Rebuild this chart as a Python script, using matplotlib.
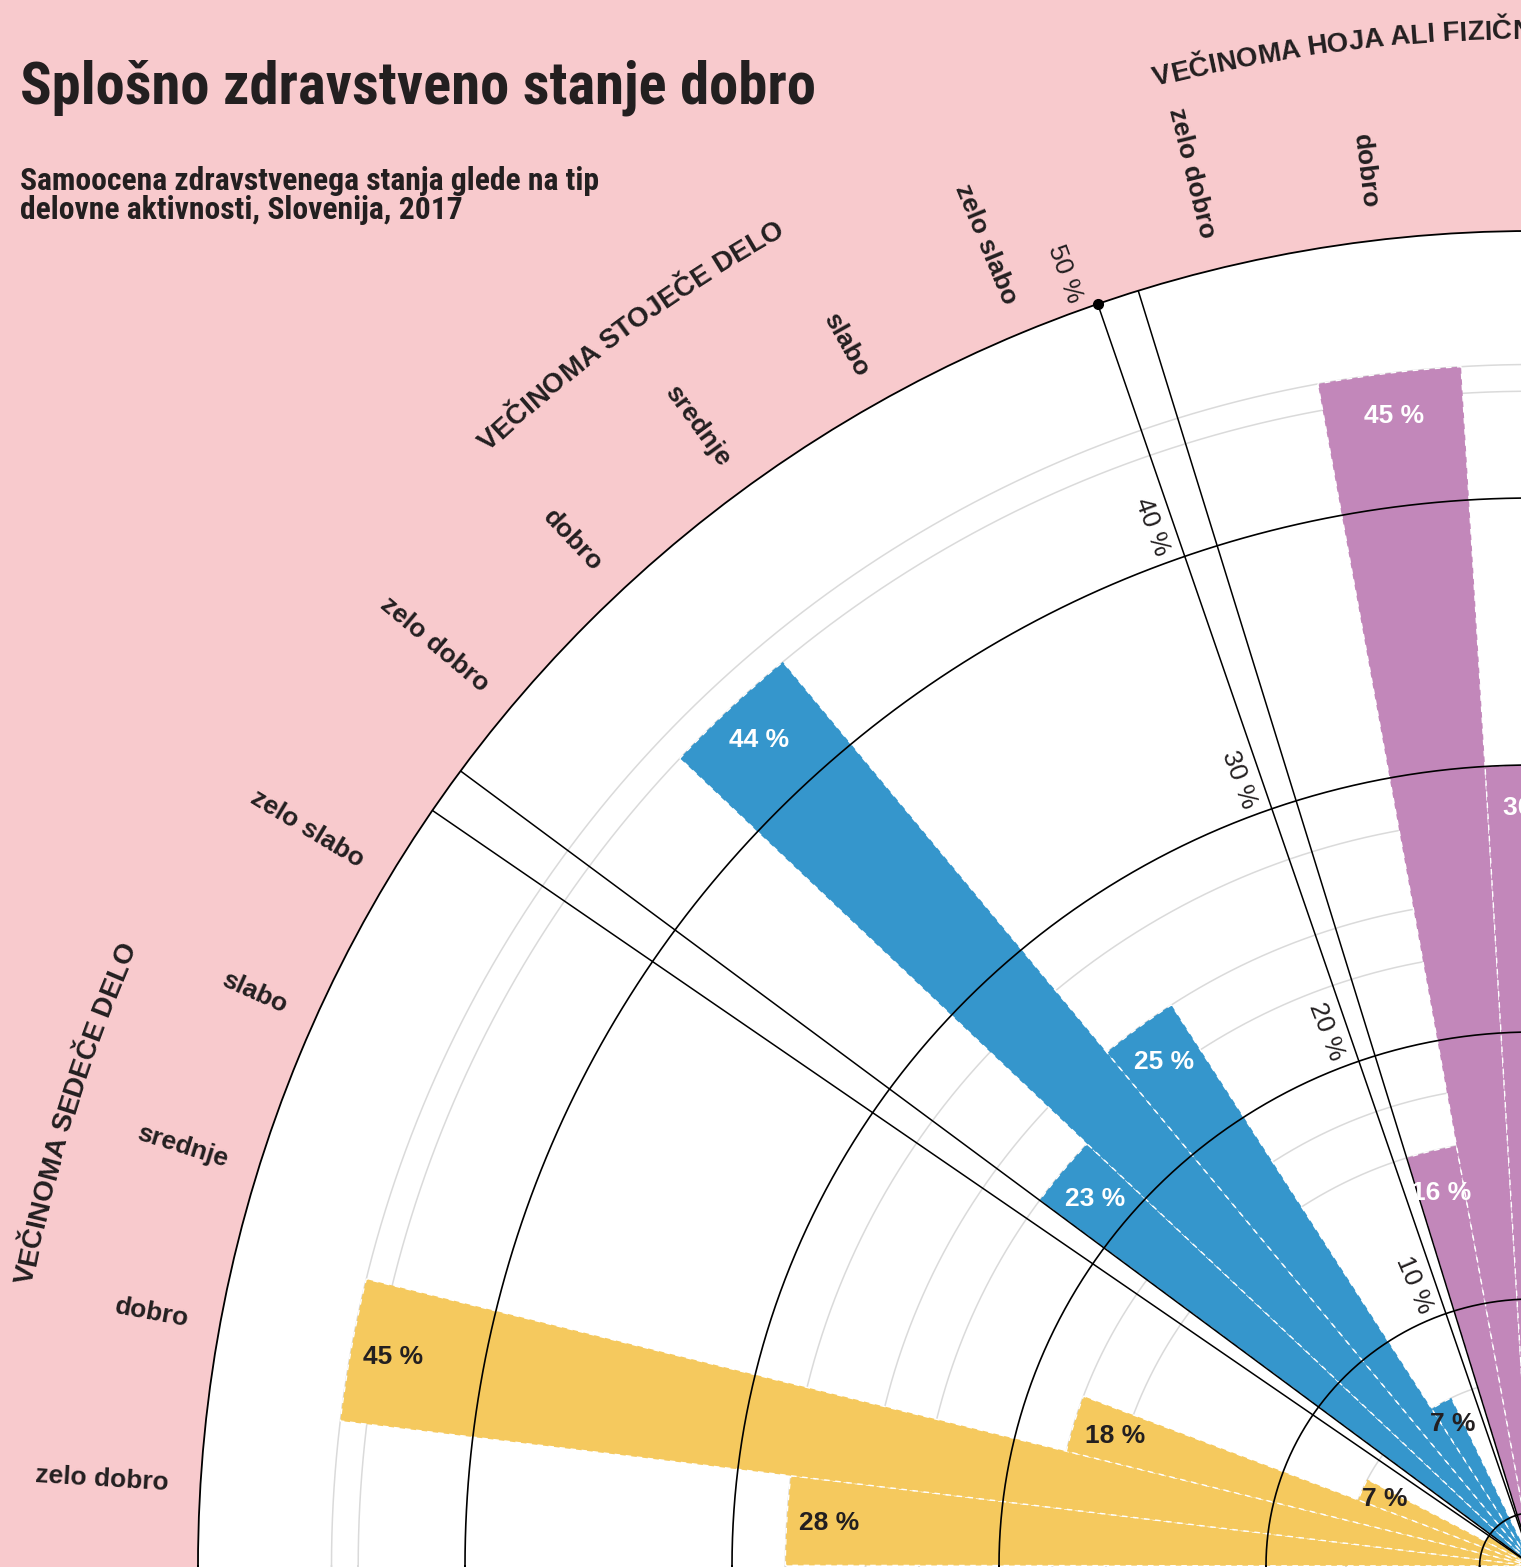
import os
import numpy as np
import matplotlib
matplotlib.use('Agg')
import matplotlib.pyplot as plt
from matplotlib.font_manager import FontProperties, fontManager

# ---------------- data ----------------
groups = ['VEČINOMA SEDEČE DELO', 'VEČINOMA STOJEČE DELO',
          'VEČINOMA HOJA ALI FIZIČNO ZMERNO NAPORNO DELO']
categories = ['zelo dobro', 'dobro', 'srednje', 'slabo', 'zelo slabo']
sedece = [28, 45, 18, 7, 2]
stojece = [23, 44, 25, 7, 1]
hoja = [16, 45, 30, 7, 2]
radial_ticks = [10, 20, 30, 40, 50]
radial_tick_labels = ['10 %', '20 %', '30 %', '40 %', '50 %']
title = 'Splošno zdravstveno stanje dobro'
subtitle = 'Samoocena zdravstvenega stanja glede na tip\ndelovne aktivnosti, Slovenija, 2017'

# ---------------- style ----------------
colors = ['#F5C95E', '#3596CC', '#C287BA']
PINK = '#F8CACD'
DARK = '#231F20'
GREY = '#DADADA'

W, H = 1521, 1567
fig = plt.figure(figsize=(W / 100, H / 100), dpi=100, facecolor=PINK)
renderer = fig.canvas.get_renderer()

cx, cy = 1533, 1       # centre of the polar plot in px (from left / bottom)
R = 1335               # px radius of 50 %
RMAX = 50
PXU = R / RMAX         # px per percent

ax = fig.add_axes([(cx - R) / W, (cy - R) / H, 2 * R / W, 2 * R / H], projection='polar')
ax.set_theta_zero_location('W')
ax.set_theta_direction(-1)
ax.set_ylim(0, RMAX)
ax.set_facecolor('white')
ax.grid(False)
ax.set_xticks([])
ax.set_yticks([])
ax.spines['polar'].set_color('black')
ax.spines['polar'].set_linewidth(1.3)

group_starts = [0.05, 36.55, 72.8]
group_width = 34.42
slot = group_width / len(categories)
all_values = [sedece, stojece, hoja]

SANS = ['Liberation Sans', 'DejaVu Sans']
bold = dict(family=SANS, weight='bold')
fp_group = FontProperties(family=SANS, weight='bold', size=20)

th_full = np.linspace(0, 2 * np.pi, 1440)

# grey value circles
uniq = sorted(set(v for vals in all_values for v in vals) - set(radial_ticks))
for v in uniq:
    ax.plot(th_full, np.full_like(th_full, v), color=GREY, lw=1.1, zorder=1)

# bars
for g, vals in enumerate(all_values):
    thetas = [np.deg2rad(group_starts[g] + (i + 0.5) * slot) for i in range(len(vals))]
    ax.bar(thetas, vals, width=np.deg2rad(slot), color=colors[g],
           edgecolor='white', linewidth=1.0, linestyle=(0, (4, 4)), zorder=3)

# black rings
for v in radial_ticks[:-1] + [2]:
    ax.plot(th_full, np.full_like(th_full, v), color='black', lw=1.2, zorder=4)

# group separators
for g in range(len(groups)):
    for a in (group_starts[g], group_starts[g] + group_width):
        if a < 1:
            continue
        ax.plot([np.deg2rad(a)] * 2, [0, RMAX], color='black', lw=1.1, zorder=4)

# 50 % dot and radial labels
sep_deg = group_starts[1] + group_width
ax.plot([np.deg2rad(sep_deg)], [RMAX], 'o', color='black', ms=7, zorder=6, clip_on=False)
for v, lab in zip(radial_ticks, radial_tick_labels):
    r = v + 1.45
    ang = sep_deg - np.degrees(21 / (r * PXU))
    ax.text(np.deg2rad(ang), r, lab, rotation=-ang, rotation_mode='anchor',
            ha='center', va='center', fontsize=19, color=DARK,
            family=SANS, zorder=7)

# value labels
for g, vals in enumerate(all_values):
    for i, v in enumerate(vals):
        if v < 5:
            continue
        ang = group_starts[g] + (i + 0.5) * slot
        r = v - (0.9 if v < 10 else 1.6)
        col = DARK if (g == 0 or v < 10) else 'white'
        ax.text(np.deg2rad(ang), r, f'{v} %', ha='center', va='center',
                fontsize=19, color=col, zorder=7, **bold)

# category labels
for g in range(len(groups)):
    for i, c in enumerate(categories):
        ang = group_starts[g] + (i + 0.5) * slot
        ax.text(np.deg2rad(ang), 51.2, c, rotation=-ang, rotation_mode='anchor',
                ha='right', va='center', fontsize=19, color=DARK, zorder=7, **bold)


# curved group labels
def adv(s, fp):
    w = renderer.get_text_width_height_descent('|' + s + '|', fp, ismath=False)[0]
    w0 = renderer.get_text_width_height_descent('||', fp, ismath=False)[0]
    return w - w0


def curved_text(text, mid_deg, r_data, fp):
    total = adv(text, fp)
    r_px = r_data * PXU
    for i, ch in enumerate(text):
        if ch == ' ':
            continue
        a = adv(text[:i], fp)
        b = adv(text[:i + 1], fp)
        pos = (a + b) / 2 - total / 2
        th = mid_deg + np.degrees(pos / r_px)
        ax.text(np.deg2rad(th), r_data, ch, rotation=90 - th, rotation_mode='anchor',
                ha='center', va='baseline', fontproperties=fp, color=DARK, zorder=7)


for g, name in enumerate(groups):
    curved_text(name, group_starts[g] + group_width / 2, 57.2, fp_group)


# ---------- narrow font for title / subtitle ----------
def find_narrow(prefs):
    entries = []
    for f in fontManager.ttflist:
        base = os.path.basename(f.fname)
        low = base.lower()
        if 'italic' in low or 'oblique' in low:
            continue
        if not ('condensed' in low or 'narrow' in low):
            continue
        if any(k in low for k in ('semicond', 'extracond', 'ultracond')):
            continue
        if 'bold' not in low or any(k in low for k in ('semibold', 'extrabold', 'ultrabold')):
            continue
        entries.append((f.name, f.fname))
    for p in prefs:
        for name, fn in entries:
            if name.lower().startswith(p.lower()):
                return fn
    return entries[0][1] if entries else None


title_font = find_narrow(['Noto Sans', 'Open Sans', 'Roboto', 'Liberation Sans', 'DejaVu Sans'])
sub_font = find_narrow(['Liberation Sans', 'Roboto', 'Noto Sans', 'Open Sans', 'DejaVu Sans'])


def make_fp(fn, size):
    if fn:
        return FontProperties(fname=fn, size=size)
    return FontProperties(family=SANS, weight='bold', size=size)


def fitted_fp(text, fn, target_px, base=40):
    fp = make_fp(fn, base)
    w = renderer.get_text_width_height_descent(text, fp, ismath=False)[0]
    return make_fp(fn, base * target_px / w)


fp_title = fitted_fp(title, title_font, 795)
fig.text(20 / W, 1 - 103 / H, title, fontproperties=fp_title,
         color=DARK, ha='left', va='baseline')
lines = subtitle.split('\n')
fp_sub = fitted_fp(lines[0], sub_font, 580)
for k, line in enumerate(lines):
    fig.text(20 / W, 1 - (190 + 29 * k) / H, line, fontproperties=fp_sub,
             color=DARK, ha='left', va='baseline')

fig.savefig('out.png', dpi=100, facecolor=PINK)
